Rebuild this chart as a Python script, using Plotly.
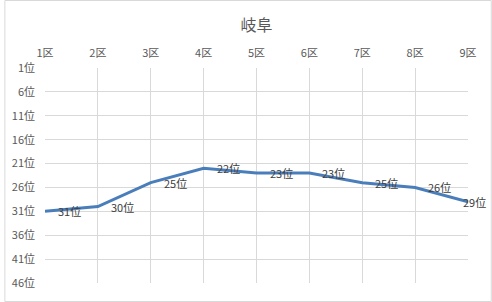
import plotly.graph_objects as go

districts = ["1区", "2区", "3区", "4区", "5区", "6区", "7区", "8区", "9区"]
ranks = [31, 30, 25, 22, 23, 23, 25, 26, 29]
ytick_vals = [1, 6, 11, 16, 21, 26, 31, 36, 41, 46]
ytick_text = [f"{v}位" for v in ytick_vals]

xs = list(range(1, len(districts) + 1))
font = "Noto Sans CJK JP"

fig = go.Figure()
fig.add_trace(go.Scatter(
    x=xs, y=ranks, mode="lines",
    line=dict(color="#4a7ebb", width=3),
    hoverinfo="skip", showlegend=False,
))

annotations = []
for i, (x, r) in enumerate(zip(xs, ranks)):
    last = i == len(xs) - 1
    annotations.append(dict(
        x=x, y=r, xref="x", yref="y", text=f"{r}位", showarrow=False,
        xanchor="center" if last else "left", yanchor="middle",
        xshift=6 if last else 11, yshift=0,
        font=dict(family=font, size=11, color="#404040"),
    ))

L, R, T, B = 41, 24, 68, 19
W, H = 492, 302
pw, ph = W - L - R, H - T - B

fig.update_layout(
    width=W, height=H,
    margin=dict(l=L, r=R, t=T, b=B),
    paper_bgcolor="white", plot_bgcolor="white",
    title=dict(text="岐阜", x=0.5, xref="paper", xanchor="center",
               y=1 - 25 / H, yanchor="middle", yref="container",
               font=dict(family=font, size=16, color="#595959")),
    xaxis=dict(side="top", range=[1, 9], tickvals=xs, ticktext=districts,
               showgrid=True, gridcolor="#d9d9d9", gridwidth=1,
               zeroline=False, showline=False, ticks="", ticklabelstandoff=8,
               tickfont=dict(family=font, size=11, color="#595959")),
    yaxis=dict(range=[46, 1], tickvals=ytick_vals, ticktext=ytick_text,
               showgrid=True, gridcolor="#d9d9d9", gridwidth=1,
               zeroline=False, showline=False, ticks="", ticklabelstandoff=9,
               tickfont=dict(family=font, size=11, color="#595959")),
    annotations=annotations,
    shapes=[dict(type="rect", xref="paper", yref="paper",
                 x0=(0.5 - L) / pw, x1=(W - 0.5 - L) / pw,
                 y0=(H - B - (H - 0.5)) / ph, y1=(H - B - 0.5) / ph,
                 line=dict(color="#d9d9d9", width=1), layer="below")],
)

fig.write_html("out.html")
